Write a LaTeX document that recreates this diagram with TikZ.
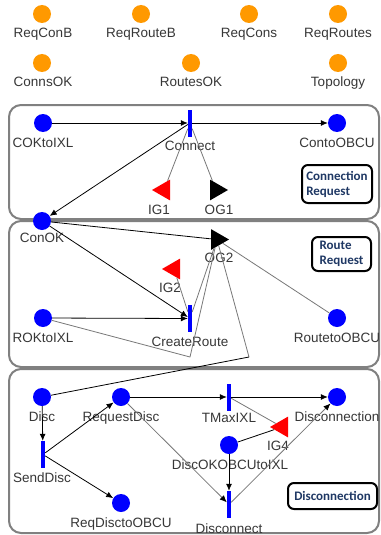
\documentclass[tikz,border=0pt]{standalone}
\usepackage{fontspec}
\setmainfont{Liberation Sans}
\newfontfamily\boxfont{Carlito}
\usetikzlibrary{arrows.meta,shapes.geometric}
\definecolor{orng}{RGB}{255,153,0}
\definecolor{navy}{RGB}{31,56,100}
\definecolor{boxgray}{RGB}{128,128,128}
\definecolor{lblgray}{RGB}{55,55,55}
\definecolor{lngray}{RGB}{120,120,120}
\begin{document}
\begin{tikzpicture}[x=1pt,y=-1pt,
  opl/.style={circle,fill=orng,minimum size=18pt,inner sep=0pt},
  bpl/.style={circle,fill=blue,minimum size=18pt,inner sep=0pt},
  tbar/.style={rectangle,fill=blue,minimum width=4pt,minimum height=27pt,inner sep=0pt},
  igate/.style={regular polygon,regular polygon sides=3,shape border rotate=90,fill=red,minimum size=24pt,inner sep=0pt},
  ogate/.style={regular polygon,regular polygon sides=3,shape border rotate=-90,fill=black,minimum size=24pt,inner sep=0pt},
  lbl/.style={font=\fontsize{13.5}{15}\selectfont,text=lblgray,inner sep=0pt,anchor=base},
  region/.style={draw=boxgray,line width=2pt,rounded corners=12pt,fill=white},
  tag/.style={draw=black,line width=2pt,rounded corners=6pt,font=\boxfont\bfseries\fontsize{13}{15}\selectfont,text=navy,align=left,inner sep=0pt},
  arc/.style={-{Latex[length=7pt,width=6pt]},black,line width=0.8pt},
  garc/.style={-{Latex[length=7pt,width=6pt,color=black]},lngray,line width=0.8pt},
  gline/.style={lngray,line width=0.8pt},
  bline/.style={black,line width=0.8pt}]
\useasboundingbox (0,0) rectangle (380,535);
\clip (0,0) rectangle (380,535);
\fill[white] (0,0) rectangle (380,535);

% regions
\draw[region] (9,105) rectangle (379,219);
\draw[region] (9,221) rectangle (379,367);
\draw[region] (9,369) rectangle (379,533);

% orange places
\node[opl] (ReqConB) at (42,14) {};
\node[opl] (ReqRouteB) at (141,14) {};
\node[opl] (ReqCons) at (249,14) {};
\node[opl] (ReqRoutes) at (338,14) {};
\node[opl] (ConnsOK) at (42,63) {};
\node[opl] (RoutesOK) at (191,63) {};
\node[opl] (Topology) at (338,63) {};
\node[lbl] (lReqConB) at (43,37.5) {ReqConB};
\node[lbl] (lReqRouteB) at (141,37.5) {ReqRouteB};
\node[lbl] (lReqCons) at (249,37.5) {ReqCons};
\node[lbl] (lReqRoutes) at (338,37.5) {ReqRoutes};
\node[lbl] (lConnsOK) at (43,86.5) {ConnsOK};
\node[lbl] (lRoutesOK) at (191,86.5) {RoutesOK};
\node[lbl] (lTopology) at (338,86.5) {Topology};

% box 1
\node[bpl] (COK) at (43,123) {};
\node[tbar] (Connect) at (190,123) {};
\node[bpl] (CtoO) at (337,123) {};
\node[igate] (IG1) at (164,190) {};
\node[ogate] (OG1) at (216,190) {};
\node[tag,minimum width=70pt,minimum height=38pt] (tConn) at (337,184) {Connection\\Request};
\node[lbl] (lCOK) at (43,147.5) {COKtoIXL};
\node[lbl] (lConnect) at (190,150.5) {Connect};
\node[lbl] (lCtoO) at (337,147.5) {ContoOBCU};
\node[lbl] (lIG1) at (159,214.5) {IG1};
\node[lbl] (lOG1) at (219,214.5) {OG1};

% box 2
\node[bpl] (ConOK) at (42,221) {};
\node[ogate] (OG2) at (217,239.5) {};
\node[igate] (IG2) at (174,269) {};
\node[bpl] (ROK) at (43,318) {};
\node[tbar] (CreateRoute) at (190,318.5) {};
\node[bpl] (RtoO) at (337,318) {};
\node[tag,minimum width=59pt,minimum height=34pt] (tRoute) at (341.5,254) {Route\\Request};
\node[lbl] (lConOK) at (42,242.5) {ConOK};
\node[lbl] (lOG2) at (219,262.5) {OG2};
\node[lbl] (lIG2) at (170,292.5) {IG2};
\node[lbl] (lROK) at (43,342.5) {ROKtoIXL};
\node[lbl] (lCreateRoute) at (190,346.5) {CreateRoute};
\node[lbl] (lRtoO) at (337,342.5) {RoutetoOBCU};
\coordinate (b1) at (190,357);
\coordinate (b2) at (249,357);

% box 3
\node[bpl] (Disc) at (42,397) {};
\node[bpl] (RequestDisc) at (121,397) {};
\node[tbar] (TMaxIXL) at (229,397) {};
\node[bpl] (Disconnection) at (337,397) {};
\node[igate] (IG4) at (282,427) {};
\node[bpl] (DiscOK) at (229,445) {};
\node[tbar] (SendDisc) at (43,454.5) {};
\node[bpl] (ReqDisc) at (121,503) {};
\node[tbar] (Disconnect) at (229,504.5) {};
\node[tag,minimum width=89pt,minimum height=26pt] (tDisc) at (332.5,496) {Disconnection};
\node[lbl] (lDisc) at (42,421.5) {Disc};
\node[lbl] (lRequestDisc) at (121,421.5) {RequestDisc};
\node[lbl] (lTMaxIXL) at (229,422.5) {TMaxIXL};
\node[lbl] (lDisconnection) at (337,421.5) {Disconnection};
\node[lbl] (lIG4) at (278,450.5) {IG4};
\node[lbl] (lDiscOK) at (230,469.5) {DiscOKOBCUtoIXL};
\node[lbl] (lSendDisc) at (42,482.5) {SendDisc};
\node[lbl] (lReqDisc) at (121,527.5) {ReqDisctoOBCU};
\node[lbl] (lDisconnect) at (229,533) {Disconnect};

% connectors box 1
\draw[arc] (COK) -- (Connect);
\draw[arc] (Connect) -- (CtoO);
\draw[arc] (Connect) -- (ConOK);
\draw[gline] (Connect) -- (IG1);
\draw[gline] (Connect) -- (OG1);

% connectors box 2
\draw[bline] (ConOK) -- (OG2);
\draw[arc] (ConOK) -- (CreateRoute);
\draw[arc] (ROK) -- (CreateRoute);
\draw[gline] (IG2) -- (CreateRoute);
\draw[gline] (CreateRoute) -- (OG2);
\draw[gline] (ROK) -- (b1) -- (OG2);
\draw[gline] (RtoO) -- (OG2);
\draw[gline] (OG2) -- (b2);
\draw[bline] (b2) -- (Disc);

% connectors box 3
\draw[arc] (Disc) -- (SendDisc);
\draw[arc] (SendDisc) -- (RequestDisc);
\draw[arc] (SendDisc) -- (ReqDisc);
\draw[arc] (RequestDisc) -- (TMaxIXL);
\draw[arc] (TMaxIXL) -- (Disconnection);
\draw[gline] (TMaxIXL) -- (IG4);
\draw[bline] (DiscOK) -- (IG4);
\draw[arc] (DiscOK) -- (Disconnect);
\draw[garc] (RequestDisc) -- (Disconnect);
\draw[garc] (Disconnect) -- (Disconnection);
\end{tikzpicture}
\end{document}
